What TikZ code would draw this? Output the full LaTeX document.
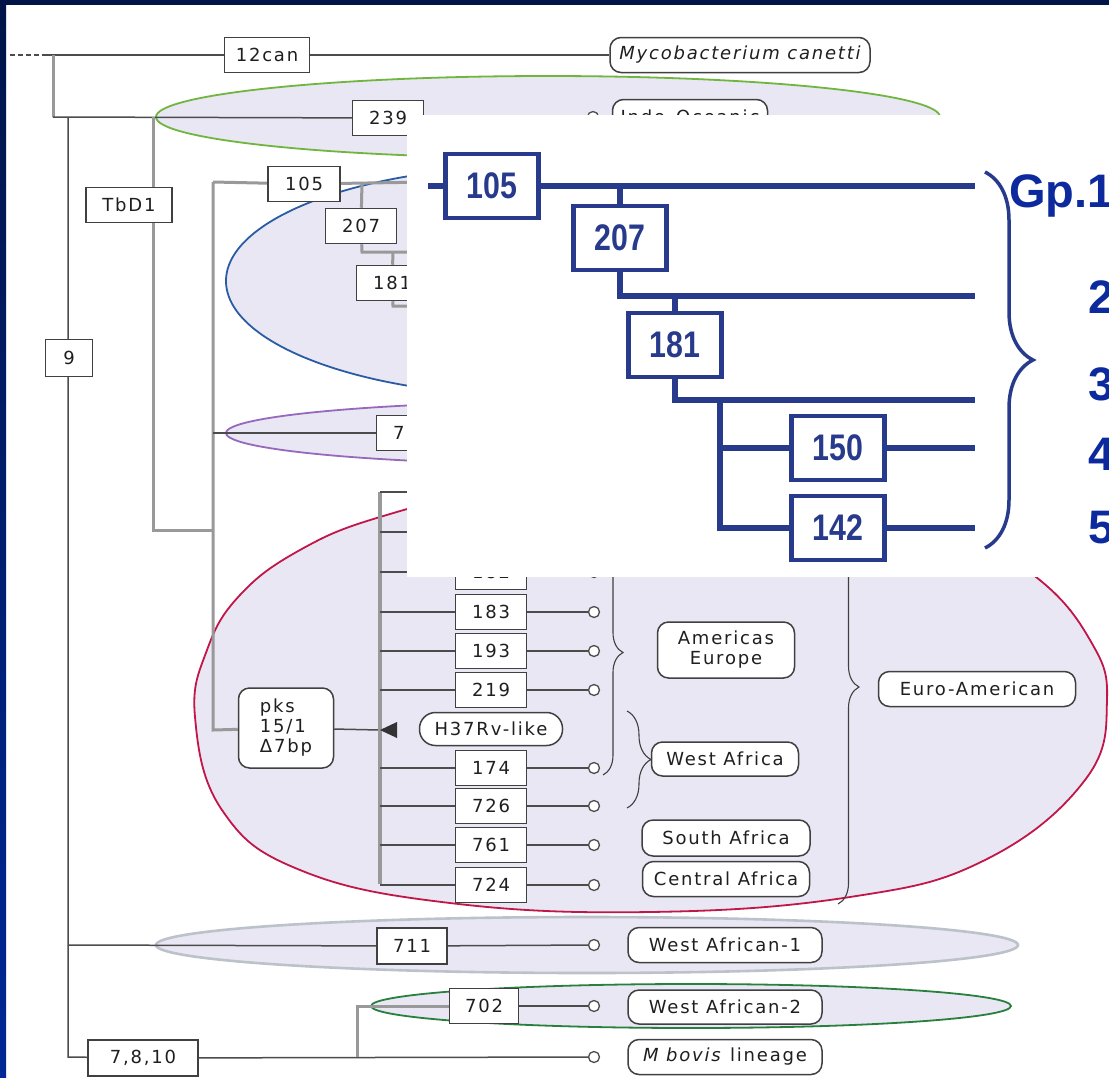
\documentclass[tikz,border=0pt]{standalone}
\usepackage{fontspec}
\setmainfont{DejaVu Sans}[LetterSpace=10]
\newfontfamily\fonteazul{Liberation Sans}[FakeStretch=0.82]
\newfontfamily\fontegp{Liberation Sans}
\usetikzlibrary{decorations.pathreplacing}
\pgfdeclarelayer{fundo}
\pgfsetlayers{fundo,main}
\definecolor{lavanda}{RGB}{233,231,243}
\definecolor{marinho}{RGB}{0,20,72}
\definecolor{azulborda}{RGB}{0,40,150}
\definecolor{azullinha}{RGB}{40,58,140}
\definecolor{azultexto}{RGB}{12,42,158}
\definecolor{verde}{RGB}{112,182,62}
\definecolor{verdeescuro}{RGB}{40,128,62}
\definecolor{azulelipse}{RGB}{42,92,165}
\definecolor{roxo}{RGB}{152,104,188}
\definecolor{vermelho}{RGB}{192,22,72}
\definecolor{cinzaelipse}{RGB}{188,194,202}
\newcommand{\rotulofonte}{\fontsize{18}{20}\selectfont}

\begin{document}
\begin{tikzpicture}[x=1pt,y=-1pt, %Escala em pixels, y para baixo
	caixa/.style={draw=black!75, line width=1.5pt, fill=white, text=black!88, minimum width=71pt, minimum height=35pt, inner sep=0pt, font=\rotulofonte},
	rotulo/.style={caixa, rounded corners=11pt},
	ramo/.style={black!70, line width=1.5pt},
	tronco/.style={black!40, line width=3pt},
	folha/.style={circle, draw=black!70, line width=1.3pt, fill=white, minimum size=11pt, inner sep=0pt},
	chave/.style={decorate, decoration={brace, amplitude=#1}, black!75, line width=1.1pt},
	bolha/.style={fill=lavanda, draw=#1, line width=1.8pt},
	azul/.style={azullinha, line width=6pt},
	caixaazul/.style={draw=azullinha, line width=4.5pt, fill=white, minimum width=93pt, minimum height=64pt, inner sep=0pt, text=azullinha, font=\fonteazul\bfseries\fontsize{37}{37}\selectfont},
	numero/.style={text=azultexto, font=\fontegp\bfseries\fontsize{47}{47}\selectfont, anchor=base west, inner sep=0pt}]
\useasboundingbox (0,0) rectangle (1109,1077);
\clip (0,0) rectangle (1109,1077);
		%Caixas da arvore
\node[caixa, minimum width=85pt] (n12can) at (267,55) {12can};
\node[rotulo, minimum width=260pt] (canetti) at (740,55) {\itshape Mycobacterium canetti};
\node[caixa] (n239) at (388,118) {239};
\node[folha] (f239) at (593,117) {};
\node[rotulo, minimum width=155pt] (indo) at (690,117) {Indo-Oceanic};
\node[caixa, minimum width=86pt] (tbd1) at (129,205) {TbD1};
\node[caixa, minimum width=47pt, minimum height=37pt] (n9) at (69,358) {9};
\node[caixa, minimum width=72pt] (n105) at (304,184) {105};
\node[caixa] (n207) at (361,226) {207};
\node[caixa] (n181) at (392,283) {181};
\node[caixa] (n750) at (412,433) {750};
\node[rotulo, minimum width=95pt, minimum height=80pt, align=left] (pks) at (286,728) {pks\\15/1\\Δ7bp};
\node[rotulo, rounded corners=16pt, minimum width=143pt, minimum height=33pt] (h37) at (491,729) {H37Rv-like};
\foreach \rd/\y in {182/572,183/612,193/651,219/690,174/768,726/806,761/845,724/885}{
	\node[caixa] (n\rd) at (491,\y) {\rd};
	\node[folha] (f\rd) at (594,\y) {};
}
\node[rotulo, minimum width=137pt, minimum height=56pt, align=center] (americas) at (726,650) {Americas\\Europe};
\node[rotulo, minimum width=147pt, minimum height=34pt] (oesteafr) at (725,759) {West Africa};
\node[rotulo, minimum width=168pt, minimum height=36pt] (sulafr) at (726,838) {South Africa};
\node[rotulo, minimum width=167pt] (centroafr) at (726,879) {Central Africa};
\node[rotulo, minimum width=197pt] (euro) at (977,689) {Euro-American};
\node[caixa, minimum width=70pt, minimum height=36pt] (n711) at (412,946) {711};
\node[folha] (f711) at (594,945) {};
\node[rotulo, minimum width=194pt] (wa1) at (725,945) {West African-1};
\node[caixa, minimum width=69pt] (n702) at (484,1006) {702};
\node[folha] (f702) at (594,1006) {};
\node[rotulo, minimum width=194pt, minimum height=34pt] (wa2) at (725,1007) {West African-2};
\node[caixa, minimum width=110pt, minimum height=36pt] (n7810) at (143,1058) {7,8,10};
\node[folha] (fbovis) at (594,1057) {};
\node[rotulo, minimum width=194pt] (bovis) at (725,1057) {\textit{M bovis} lineage};
		%Ramos
\begin{pgfonlayer}{fundo}
\fill[white] (0,0) rectangle (1109,1077);
\draw[bolha=verde] (548,117) ellipse [x radius=392, y radius=41]; %Indo-Oceanic
\draw[bolha=azulelipse] (536,281) ellipse [x radius=310, y radius=115];
\draw[bolha=roxo] (596,433) ellipse [x radius=370, y radius=32];
\draw[bolha=vermelho] plot[smooth cycle, tension=0.7] coordinates {(195,717) (207,650) (240,595) (300,550) (380,517) (500,490) (650,482) (800,492) (950,530) (1036,577) (1090,640) (1107,700) (1085,780) (985,860) (850,897) (650,912) (450,903) (300,870) (222,810)}; %Euro-American
\draw[bolha=cinzaelipse, line width=2.6pt] (587,945) ellipse [x radius=431, y radius=28];
\draw[bolha=verdeescuro] (691,1006) ellipse [x radius=320, y radius=22];
\coordinate (tracejado) at (10,55); \coordinate (ini) at (42,55);
\coordinate (j0) at (53,55); \coordinate (j1) at (53,117);
\coordinate (j2) at (68,117); \coordinate (j3) at (153,117);
\coordinate (j4) at (153,530); \coordinate (j5) at (213,530);
\coordinate (j6) at (213,182); \coordinate (j7) at (213,730);
\coordinate (j8) at (362,182); \coordinate (j9) at (362,252);
\coordinate (j10) at (393,252); \coordinate (j11) at (393,306);
\coordinate (j12) at (213,433); \coordinate (seta) at (380,730);
\coordinate (esp0) at (380,492); \coordinate (esp1) at (380,884);
\coordinate (j13) at (68,945); \coordinate (j14) at (68,1057);
\coordinate (j15) at (357,1057); \coordinate (j16) at (357,1006);
\coordinate (e105) at (430,182); \coordinate (e207) at (430,252);
\coordinate (e181) at (430,306); \coordinate (e492) at (430,492);
\coordinate (e532) at (430,532); \coordinate (r532) at (380,532);
\draw[ramo, dash pattern=on 5pt off 3pt] (tracejado) -- (ini);
\draw[ramo] (ini) -- (n12can) -- (canetti);
\draw[tronco] (j0) -- (j1);
\draw[ramo] (j1) -- (n239) -- (f239);
\draw[ramo] (j2) -- (j14) -- (n7810) -- (fbovis);
\draw[ramo] (j13) -- (n711) -- (f711);
\draw[tronco] (j3) -- (j4) -- (j5);
\draw[tronco] (j6) -- (j7) -- (pks);
\draw[tronco] (j6) -- (n105) -- (e105);
\draw[tronco] (j8) -- (n207);
\draw[tronco] (n207) -- (j9) -- (e207);
\draw[tronco] (j10) -- (n181);
\draw[tronco] (n181) -- (j11) -- (e181);
\draw[ramo] (j12) -- (n750);
\draw[ramo] (pks) -- (seta);
\draw[tronco, line width=4pt] (esp0) -- (esp1);
\draw[ramo] (esp0) -- (e492);
\draw[ramo] (r532) -- (e532);
\foreach \rd/\y in {182/572,183/612,193/651,219/690,174/768,726/806,761/845,724/885}{
	\draw[ramo] (380,\y) -- (n\rd) -- (f\rd);
}
\draw[tronco] (j15) -- (j16) -- (n702);
\draw[ramo] (n702) -- (f702);
\end{pgfonlayer}
\fill[black!80] (seta) -- (397,722) -- (397,738) -- cycle; %Seta H37Rv
		%Chaves
\draw[chave=20] (603,530) -- (603,775);
\draw[chave=24] (627,711) -- (627,808);
\draw[chave=21] (838,470) -- (838,904);
		%Quadro sobreposto
\fill[white] (407,115) rectangle (1109,577);
\node[caixaazul] (o105) at (492,186) {105};
\node[caixaazul] (o207) at (620,238) {207};
\node[caixaazul] (o181) at (675,345) {181};
\node[caixaazul] (o150) at (838,448) {150};
\node[caixaazul] (o142) at (838,528) {142};
\coordinate (oa) at (428,186); \coordinate (ob) at (975,186);
\coordinate (oc) at (620,186); \coordinate (od) at (620,296);
\coordinate (oe) at (975,296); \coordinate (of) at (675,296);
\coordinate (og) at (675,400); \coordinate (oh) at (975,400);
\coordinate (oi) at (720,400); \coordinate (oj) at (720,448);
\coordinate (ok) at (720,528); \coordinate (ol) at (975,448);
\coordinate (om) at (975,528);
\draw[azul] (oa) -- (o105);
\draw[azul] (o105) -- (ob);
\draw[azul] (oc) -- (o207);
\draw[azul] (o207) -- (od) -- (oe);
\draw[azul] (of) -- (o181);
\draw[azul] (o181) -- (og) -- (oh);
\draw[azul] (oi) -- (ok) -- (o142);
\draw[azul] (oj) -- (o150);
\draw[azul] (o150) -- (ol);
\draw[azul] (o142) -- (om);
\draw[chave=48, azullinha, line width=3.5pt] (985,172) -- (985,548);
\node[numero] (gp1) at (1009,207) {Gp.1};
\node[numero] (gp2) at (1088,313) {2};
\node[numero] (gp3) at (1088,400) {3};
\node[numero] (gp4) at (1088,470) {4};
\node[numero] (gp5) at (1088,543) {5};
		%Moldura
\fill[marinho] (0,0) rectangle (1109,5);
\shade[top color=marinho, bottom color=azulborda] (0,0) rectangle (6,1077);
\end{tikzpicture}
\end{document}
